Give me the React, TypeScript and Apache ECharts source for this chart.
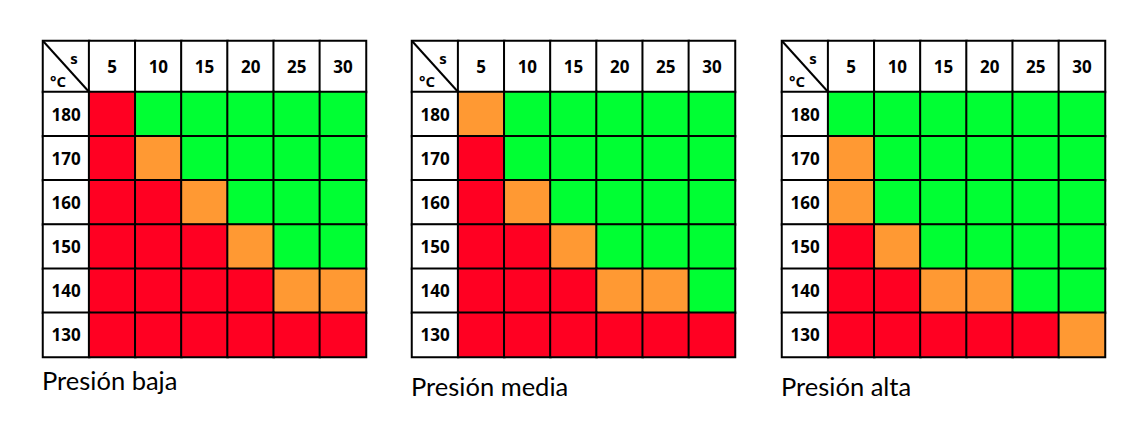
import React, { useEffect, useRef } from "react";
import * as echarts from "echarts";

// Column headers (seconds) and row headers (°C)
const COLS = ["5", "10", "15", "20", "25", "30"];
const ROWS = ["180", "170", "160", "150", "140", "130"];
const TITLES = ["Presión baja", "Presión media", "Presión alta"];

// 0 = red, 1 = orange, 2 = green ; rows follow ROWS, columns follow COLS
const presionBaja = [
  [0, 2, 2, 2, 2, 2],
  [0, 1, 2, 2, 2, 2],
  [0, 0, 1, 2, 2, 2],
  [0, 0, 0, 1, 2, 2],
  [0, 0, 0, 0, 1, 1],
  [0, 0, 0, 0, 0, 0],
];
const presionMedia = [
  [1, 2, 2, 2, 2, 2],
  [0, 2, 2, 2, 2, 2],
  [0, 1, 2, 2, 2, 2],
  [0, 0, 1, 2, 2, 2],
  [0, 0, 0, 1, 1, 2],
  [0, 0, 0, 0, 0, 0],
];
const presionAlta = [
  [2, 2, 2, 2, 2, 2],
  [1, 2, 2, 2, 2, 2],
  [1, 2, 2, 2, 2, 2],
  [0, 1, 2, 2, 2, 2],
  [0, 0, 1, 1, 2, 2],
  [0, 0, 0, 0, 0, 1],
];
const TABLES = [presionBaja, presionMedia, presionAlta];

// 0 red, 1 orange, 2 green, 3 header (white)
const CELL_COLORS = ["#FF0022", "#FF9933", "#00FF33", "#FFFFFF"];

export default function App() {
  const ref = useRef<HTMLDivElement>(null);
  useEffect(() => {
    if (!ref.current) return;
    const chart = echarts.init(ref.current, undefined, { renderer: "svg" });

    const lefts = [43, 412, 782];
    const top = 41;
    const headerH = 51;
    const bodyH = 265;
    const width = 323;
    const cellW = width / 7;
    const xCats = ["°C", ...COLS];

    const grids: any[] = [];
    const xAxes: any[] = [];
    const yAxes: any[] = [];
    const series: any[] = [];
    const graphics: any[] = [];

    const border = { borderColor: "#000", borderWidth: 2 };
    const labelStyle = {
      show: true,
      formatter: "{b}",
      color: "#000",
      fontFamily: "Open Sans",
      fontWeight: "bold",
      fontSize: 17,
    };

    TABLES.forEach((tbl, t) => {
      const L = lefts[t];
      // header grid
      const gh = grids.length;
      grids.push({ left: L, top: top, width: width, height: headerH, containLabel: false });
      xAxes.push({ type: "category", gridIndex: gh, data: xCats, show: false });
      yAxes.push({ type: "category", gridIndex: gh, data: ["s"], show: false });
      const headerData: any[] = xCats.map((c, i) => ({
        name: i === 0 ? "" : c,
        value: [i, 0, 3],
      }));
      series.push({
        type: "heatmap",
        xAxisIndex: gh,
        yAxisIndex: gh,
        data: headerData,
        itemStyle: border,
        label: labelStyle,
        emphasis: { disabled: true },
        silent: true,
      });
      // body grid
      const gb = grids.length;
      grids.push({ left: L, top: top + headerH, width: width, height: bodyH, containLabel: false });
      xAxes.push({ type: "category", gridIndex: gb, data: xCats, show: false });
      yAxes.push({ type: "category", gridIndex: gb, data: ROWS, inverse: true, show: false });
      const bodyData: any[] = [];
      ROWS.forEach((r, ri) => {
        bodyData.push({ name: r, value: [0, ri, 3] });
        tbl[ri].forEach((v, ci) => {
          bodyData.push({ name: "", value: [ci + 1, ri, v] });
        });
      });
      series.push({
        type: "heatmap",
        xAxisIndex: gb,
        yAxisIndex: gb,
        data: bodyData,
        itemStyle: border,
        label: labelStyle,
        emphasis: { disabled: true },
        silent: true,
      });

      // corner cell diagonal + labels
      graphics.push({
        type: "line",
        shape: { x1: L, y1: top, x2: L + cellW, y2: top + headerH },
        style: { stroke: "#000", lineWidth: 2 },
        z: 100,
      });
      graphics.push({
        type: "text",
        x: L + 31,
        y: top + 17,
        style: {
          text: "s",
          fontFamily: "Open Sans",
          fontWeight: "bold",
          fontSize: 15,
          fill: "#000",
          align: "center",
          verticalAlign: "middle",
        },
        z: 100,
      });
      graphics.push({
        type: "text",
        x: L + 15,
        y: top + 40,
        style: {
          text: "°C",
          fontFamily: "Open Sans",
          fontWeight: "bold",
          fontSize: 15,
          fill: "#000",
          align: "center",
          verticalAlign: "middle",
        },
        z: 100,
      });
    });

    // titles below tables
    const titleMiddles = [380, 386, 386];
    TITLES.forEach((txt, t) => {
      graphics.push({
        type: "text",
        x: lefts[t] - 1,
        y: titleMiddles[t],
        style: {
          text: txt,
          fontFamily: "Lato",
          fontSize: 25.5,
          fill: "#000",
          align: "left",
          verticalAlign: "middle",
        },
      });
    });

    chart.setOption({
      animation: false,
      backgroundColor: "#fff",
      visualMap: {
        type: "piecewise",
        show: false,
        dimension: 2,
        seriesIndex: series.map((_, i) => i),
        pieces: CELL_COLORS.map((c, i) => ({ value: i, color: c })),
      },
      grid: grids,
      xAxis: xAxes,
      yAxis: yAxes,
      series: series,
      graphic: graphics,
    });
    return () => chart.dispose();
  }, []);

  return (
    <div
      ref={ref}
      style={{ position: "fixed", left: 0, top: 0, width: "1147px", height: "431px" }}
    />
  );
}
